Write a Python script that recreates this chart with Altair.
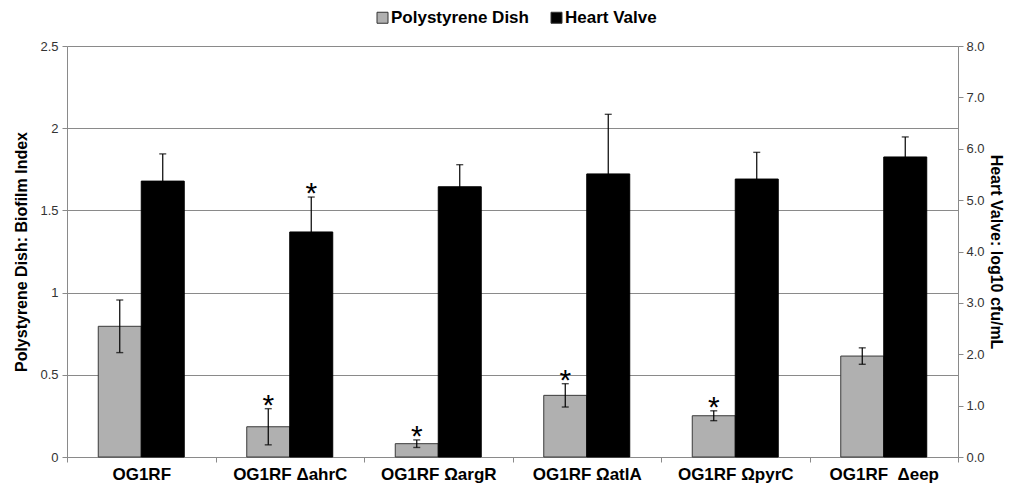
import altair as alt
import pandas as pd

# ---- data ----
categories = ["OG1RF", "OG1RF ΔahrC", "OG1RF ΩargR", "OG1RF ΩatlA", "OG1RF ΩpyrC", "OG1RF\u00a0 Δeep"]
series = ["Polystyrene Dish", "Heart Valve"]
dish_mean = [0.795, 0.184, 0.081, 0.375, 0.251, 0.614]
dish_err = [0.16, 0.11, 0.023, 0.071, 0.03, 0.05]
dish_sig = [False, True, True, True, True, False]
valve_mean = [5.37, 4.38, 5.26, 5.51, 5.41, 5.84]
valve_err = [0.53, 0.68, 0.43, 1.16, 0.52, 0.39]
valve_sig = [False, True, False, False, False, False]
left_ticks = [0, 0.5, 1, 1.5, 2, 2.5]
right_ticks = [0, 1, 2, 3, 4, 5, 6, 7, 8]

FONT = "Liberation Sans"


def frame(means, errs, sigs, name):
    return pd.DataFrame({
        "cat": categories,
        "series": name,
        "mean": means,
        "lo": [m - e for m, e in zip(means, errs)],
        "hi": [m + e for m, e in zip(means, errs)],
        "star": ["*" if s else "" for s in sigs],
    })


dish_df = frame(dish_mean, dish_err, dish_sig, series[0])
valve_df = frame(valve_mean, valve_err, valve_sig, series[1])

x_axis = alt.Axis(
    title=None, bandPosition=0, tickBand="extent", labelAngle=0,
    labelFont=FONT, labelFontSize=17, labelFontWeight="bold", labelColor="black",
    labelPadding=4, tickSize=5, tickColor="#8a8a8a", domainColor="#8a8a8a",
    grid=False,
)
x_enc = alt.X("cat:N", scale=alt.Scale(domain=categories, paddingInner=0, paddingOuter=0), axis=x_axis)
xo_enc = alt.XOffset("series:N", scale=alt.Scale(domain=series, paddingInner=0, paddingOuter=0.727))
color_enc = alt.Color(
    "series:N",
    scale=alt.Scale(domain=series, range=["#b0b0b0", "#000000"]),
    legend=alt.Legend(
        orient="none", legendX=307, legendY=-37, direction="horizontal", title=None,
        symbolType="square", symbolSize=121, symbolStrokeColor="#333333", symbolStrokeWidth=1,
        labelFont=FONT, labelFontSize=17, labelFontWeight="bold", labelColor="black",
        columnPadding=19, labelOffset=0,
    ),
)

left_axis = alt.Axis(
    title="Polystyrene Dish: Biofilm Index", values=left_ticks, format=".1~f", orient="left",
    grid=True, gridColor="#8a8a8a", gridWidth=1,
    domainColor="#8a8a8a", tickColor="#8a8a8a", tickSize=5,
    labelFont=FONT, labelFontSize=13, labelColor="#333333", labelPadding=4,
    titleFont=FONT, titleFontSize=16, titleFontWeight="bold", titleColor="black", titlePadding=10,
)
right_axis = alt.Axis(
    title="Heart Valve: log10 cfu/mL", values=right_ticks, format=".1f", orient="right",
    grid=False,
    domainColor="#8a8a8a", tickColor="#8a8a8a", tickSize=5,
    labelFont=FONT, labelFontSize=13, labelColor="#333333", labelPadding=3,
    titleFont=FONT, titleFontSize=16, titleFontWeight="bold", titleColor="black", titlePadding=3,
)
left_scale = alt.Scale(domain=[0, 2.5], nice=False, zero=True)
right_scale = alt.Scale(domain=[0, 8], nice=False, zero=True)


def side(df, scale, axis, stroke):
    def Y(f):
        return alt.Y(f"{f}:Q", scale=scale, axis=axis)
    base = alt.Chart(df).encode(x=x_enc, xOffset=xo_enc)
    bars = base.mark_bar(stroke=stroke, strokeWidth=1).encode(y=Y("mean"), color=color_enc)
    rule = base.mark_rule(color="black", strokeWidth=1.2).encode(y=Y("lo"), y2="hi:Q")
    cap_lo = base.mark_tick(orient="horizontal", size=7, thickness=1.4, color="black").encode(y=Y("lo"))
    cap_hi = base.mark_tick(orient="horizontal", size=7, thickness=1.4, color="black").encode(y=Y("hi"))
    stars = base.transform_filter("datum.star != ''").mark_text(
        font=FONT, fontSize=30, color="black", baseline="alphabetic", dy=6
    ).encode(y=Y("hi"), text="star:N")
    return alt.layer(bars, rule, cap_lo, cap_hi, stars)


left = side(dish_df, left_scale, left_axis, "#3a3a3a")
right = side(valve_df, right_scale, right_axis, "#000000")

chart = (
    alt.layer(left, right)
    .resolve_scale(y="independent")
    .properties(
        width=891, height=411,
        autosize=alt.AutoSizeParams(type="none"),
        padding={"left": 59, "top": 38, "right": 47, "bottom": 26},
    )
    .configure_view(stroke=None)
    .configure(font=FONT)
)

chart.save("out.html", embed_options={"renderer": "svg", "actions": False})
